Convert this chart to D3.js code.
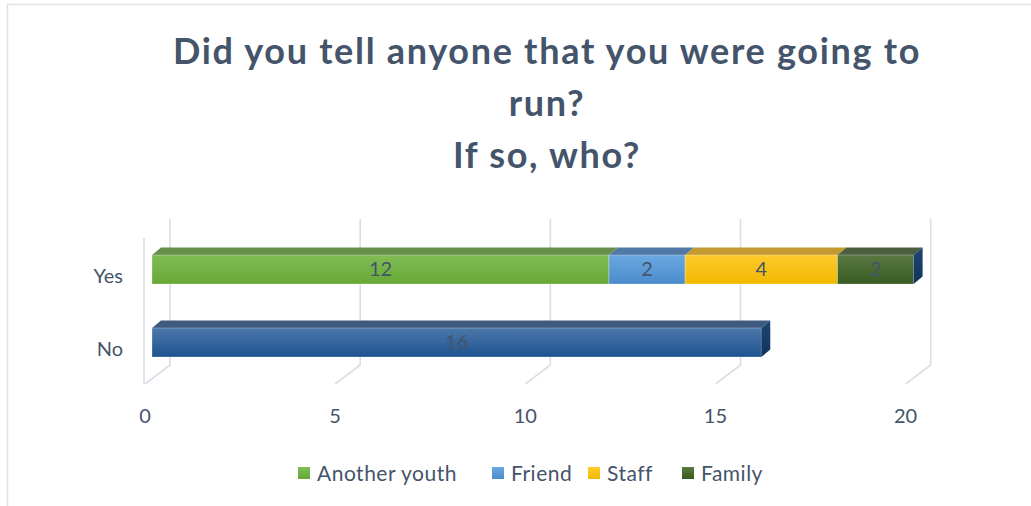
<!DOCTYPE html>
<html>
<head>
<meta charset="utf-8">
<script src="https://cdn.jsdelivr.net/npm/d3@7"></script>
<style>
  html, body { margin: 0; padding: 0; background: #ffffff; }
  svg { display: block; }
  text { font-family: Lato, "Open Sans", sans-serif; fill: #44546A; }
</style>
</head>
<body>
<svg id="chart" width="1031" height="506"></svg>
<script>
// Survey answers
const categories = ["Yes", "No"];
const seriesNames = ["Another youth", "Friend", "Staff", "Family"];
const yesCounts = [12, 2, 4, 2];
const noCounts = [16];
const tickValues = [0, 5, 10, 15, 20];
const titleLines = ["Did you tell anyone that you were going to", "run?", "If so, who?"];

const svg = d3.select("#chart");
const W = 1031, H = 506;

// palette: front face (top/bottom of gradient), top face
const seriesColors = {
  "Another youth": { light: "#80bd56", dark: "#66a834", top: "#678f4b" },
  "Friend":        { light: "#6aa8e0", dark: "#4a8bcc", top: "#5179a6" },
  "Staff":         { light: "#ffca2e", dark: "#f2b900", top: "#c49a31" },
  "Family":        { light: "#587a42", dark: "#385b20", top: "#4b5f40" }
};
const noColor = { light: "#4c78aa", dark: "#1d5390", top: "#3e5a7e" };
const endColor = { light: "#1d4673", dark: "#10325a" };

// frame
svg.append("rect")
  .attr("x", 7.5).attr("y", 4.5)
  .attr("width", W + 20).attr("height", H + 20)
  .attr("fill", "#ffffff")
  .attr("stroke", "#dde2e8").attr("stroke-width", 1.5);

// gradients
const defs = svg.append("defs");
function gradient(id, c) {
  const g = defs.append("linearGradient").attr("id", id)
    .attr("x1", 0).attr("y1", 0).attr("x2", 0).attr("y2", 1);
  g.append("stop").attr("offset", "0%").attr("stop-color", c.light);
  g.append("stop").attr("offset", "100%").attr("stop-color", c.dark);
  return `url(#${id})`;
}
const fills = {};
seriesNames.forEach((s, i) => { fills[s] = gradient("g" + i, seriesColors[s]); });
const noFill = gradient("gNo", noColor);
const endFill = gradient("gEnd", endColor);

// scales: front of bars, back wall and front floor edge
const xBar = d3.scaleLinear().domain([0, 20]).range([152, 913.6]);
const xBack = d3.scaleLinear().domain([0, 20]).range([170, 930.7]);
const xFloor = d3.scaleLinear().domain([0, 20]).range([145, 905.6]);
const yCenter = d3.scalePoint().domain(categories).range([269.5, 342.5]);
const barH = 29;
const depth = { dx: 9, dy: -7.5 };

const wallTop = 219, wallBottom = 365, floorFront = 384;

// gridlines: back wall + floor
const grid = svg.append("g").attr("stroke", "#dadfe7").attr("stroke-width", 1.6).attr("fill", "none");
tickValues.forEach(v => {
  grid.append("path").attr("d",
    `M${xBack(v)},${wallTop} L${xBack(v)},${wallBottom} L${xFloor(v)},${floorFront}`);
});
// side wall front edge
grid.append("line")
  .attr("x1", xFloor(0) - 1).attr("x2", xFloor(0) - 1)
  .attr("y1", 238).attr("y2", floorFront);

// bars
function drawBar(g, cat, segments, lastFill) {
  const yTop = yCenter(cat) - barH / 2, yBot = yTop + barH;
  let acc = 0;
  segments.forEach((seg, i) => {
    const x0 = xBar(acc), x1 = xBar(acc + seg.value);
    acc += seg.value;
    // top face
    g.append("path")
      .attr("d", `M${x0},${yTop} L${x0 + depth.dx},${yTop + depth.dy} L${x1 + depth.dx},${yTop + depth.dy} L${x1},${yTop} Z`)
      .attr("fill", seg.top);
    // front face
    g.append("rect")
      .attr("x", x0).attr("y", yTop)
      .attr("width", x1 - x0).attr("height", barH)
      .attr("fill", seg.fill)
      .attr("stroke", "rgba(255,255,255,0.35)").attr("stroke-width", 0.8);
    // data label
    g.append("text")
      .attr("x", (x0 + x1) / 2).attr("y", yCenter(cat) + 1)
      .attr("text-anchor", "middle").attr("dominant-baseline", "middle")
      .attr("font-size", 20)
      .text(seg.value);
    if (i === segments.length - 1) {
      g.append("path")
        .attr("d", `M${x1},${yTop} L${x1 + depth.dx},${yTop + depth.dy} L${x1 + depth.dx},${yBot + depth.dy} L${x1},${yBot} Z`)
        .attr("fill", lastFill);
    }
  });
}

const bars = svg.append("g");
drawBar(bars, "Yes",
  yesCounts.map((v, i) => ({ value: v, fill: fills[seriesNames[i]], top: seriesColors[seriesNames[i]].top })),
  endFill);
drawBar(bars, "No",
  noCounts.map(v => ({ value: v, fill: noFill, top: noColor.top })),
  endFill);

// category labels
svg.append("g").selectAll("text").data(categories).join("text")
  .attr("x", 123).attr("y", d => yCenter(d) + 8)
  .attr("text-anchor", "end").attr("dominant-baseline", "middle")
  .attr("font-size", 20)
  .text(d => d);

// value axis labels
svg.append("g").selectAll("text").data(tickValues).join("text")
  .attr("x", d => xFloor(d)).attr("y", 423)
  .attr("text-anchor", "middle")
  .attr("font-size", 20)
  .text(d => d);

// title
svg.append("g").selectAll("text").data(titleLines).join("text")
  .attr("x", 547).attr("y", (d, i) => 64 + i * 52)
  .attr("text-anchor", "middle")
  .attr("font-size", 36).attr("font-weight", 700)
  .attr("letter-spacing", 1.7)
  .text(d => d);

// legend
const legendX = [298, 492, 588, 682];
const legend = svg.append("g").selectAll("g").data(seriesNames).join("g")
  .attr("transform", (d, i) => `translate(${legendX[i]},466)`);
legend.append("rect")
  .attr("width", 12).attr("height", 12).attr("y", 1)
  .attr("fill", d => fills[d]);
legend.append("text")
  .attr("x", 19).attr("y", 14.5)
  .attr("font-size", 21).attr("letter-spacing", 0.5)
  .text(d => d);
</script>
</body>
</html>
